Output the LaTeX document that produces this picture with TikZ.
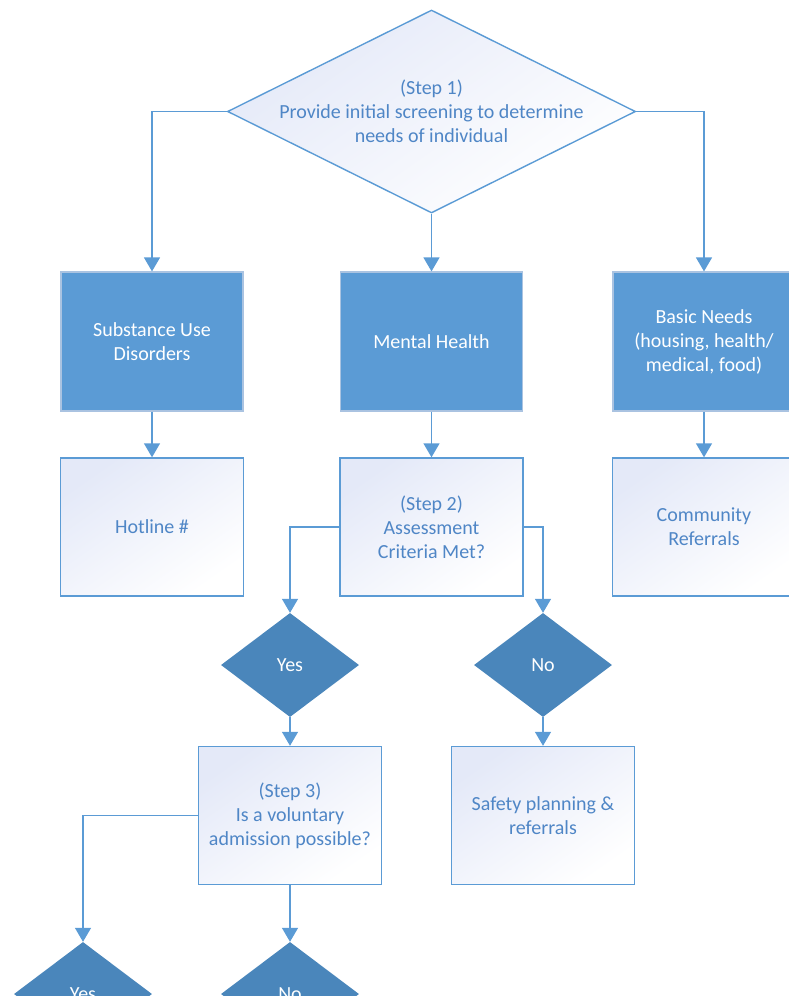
\documentclass[tikz,border=0pt]{standalone}
\usepackage{fontspec}
\setmainfont{Carlito}
\usetikzlibrary{shapes.geometric,arrows.meta}
\definecolor{fillblue}{RGB}{91,155,213}
\definecolor{darkblue}{RGB}{74,134,187}
\definecolor{lineblue}{RGB}{91,155,213}
\definecolor{txtblue}{RGB}{79,134,198}
\definecolor{lightlav}{RGB}{228,233,248}
\definecolor{softborder}{RGB}{170,195,225}
\tikzset{
  conn/.style={draw=lineblue, line width=1.4pt, -{Triangle[width=16pt,length=14pt]}},
  solidbox/.style={rectangle, fill=fillblue, draw=softborder, line width=1.2pt, minimum width=182pt, minimum height=139pt, inner sep=0pt},
  lightbox/.style={rectangle, top color=lightlav, bottom color=white, shading angle=35, draw=lineblue, line width=1.4pt, minimum width=183pt, minimum height=138pt, inner sep=0pt},
  darkdia/.style={diamond, fill=darkblue, draw=none, minimum width=138pt, minimum height=104pt, inner sep=0pt},
  bigdia/.style={diamond, top color=lightlav, bottom color=white, shading angle=35, draw=lineblue, line width=1.4pt, minimum width=408pt, minimum height=203pt, inner sep=0pt},
  wtxt/.style={text=white, align=center, font=\fontsize{20}{24}\selectfont},
  btxt/.style={text=txtblue, align=center, font=\fontsize{20}{24}\selectfont}
}
\begin{document}
\begin{tikzpicture}[x=1pt,y=-1pt]
\useasboundingbox (0,0) rectangle (789,996);
\clip (0,0) rectangle (789,996);
% step 1
\node[bigdia] (s1) at (431.5,111.5) {};
\node[btxt] (s1t) at (s1.center) {(Step 1)\\Provide initial screening to determine\\needs of individual};
% top row
\node[solidbox] (sud) at (152,341.5) {};
\node[wtxt] (sudt) at (sud.center) {Substance Use\\Disorders};
\node[solidbox] (mh) at (431.5,341.5) {};
\node[wtxt] (mht) at (mh.center) {Mental Health};
\node[solidbox] (bn) at (704,341.5) {};
\node[wtxt] (bnt) at (bn.center) {Basic Needs\\(housing, health/\\medical, food)};
% second row
\node[lightbox] (hot) at (152,527) {};
\node[btxt] (hott) at (hot.center) {Hotline \#};
\node[lightbox] (s2) at (431.5,527) {};
\node[btxt] (s2t) at (s2.center) {(Step 2)\\Assessment\\Criteria Met?};
\node[lightbox] (cr) at (704,527) {};
\node[btxt] (crt) at (cr.center) {Community\\Referrals};
% yes/no
\node[darkdia] (y1) at (290,665) {};
\node[wtxt] (y1t) at (y1.center) {Yes};
\node[darkdia] (n1) at (543,665) {};
\node[wtxt] (n1t) at (n1.center) {No};
% third row
\node[lightbox] (s3) at (290,815.5) {};
\node[btxt] (s3t) at (s3.center) {(Step 3)\\Is a voluntary\\admission possible?};
\node[lightbox] (sp) at (543,815.5) {};
\node[btxt] (spt) at (sp.center) {Safety planning \&\\referrals};
% bottom diamonds
\node[darkdia] (y2) at (83,994) {};
\node[wtxt] (y2t) at (y2.center) {Yes};
\node[darkdia] (n2) at (290,994) {};
\node[wtxt] (n2t) at (n2.center) {No};
% connectors
\draw[conn] (s1.west) -| (sud.north);
\draw[conn] (s1.south) -- (mh.north);
\draw[conn] (s1.east) -| (bn.north);
\draw[conn] (sud.south) -- (hot.north);
\draw[conn] (mh.south) -- (s2.north);
\draw[conn] (bn.south) -- (cr.north);
\draw[conn] (s2.west) -| (y1.north);
\draw[conn] (s2.east) -| (n1.north);
\draw[conn] (y1.south) -- (s3.north);
\draw[conn] (n1.south) -- (sp.north);
\draw[conn] (s3.west) -| (y2.north);
\draw[conn] (s3.south) -- (n2.north);
\end{tikzpicture}
\end{document}
